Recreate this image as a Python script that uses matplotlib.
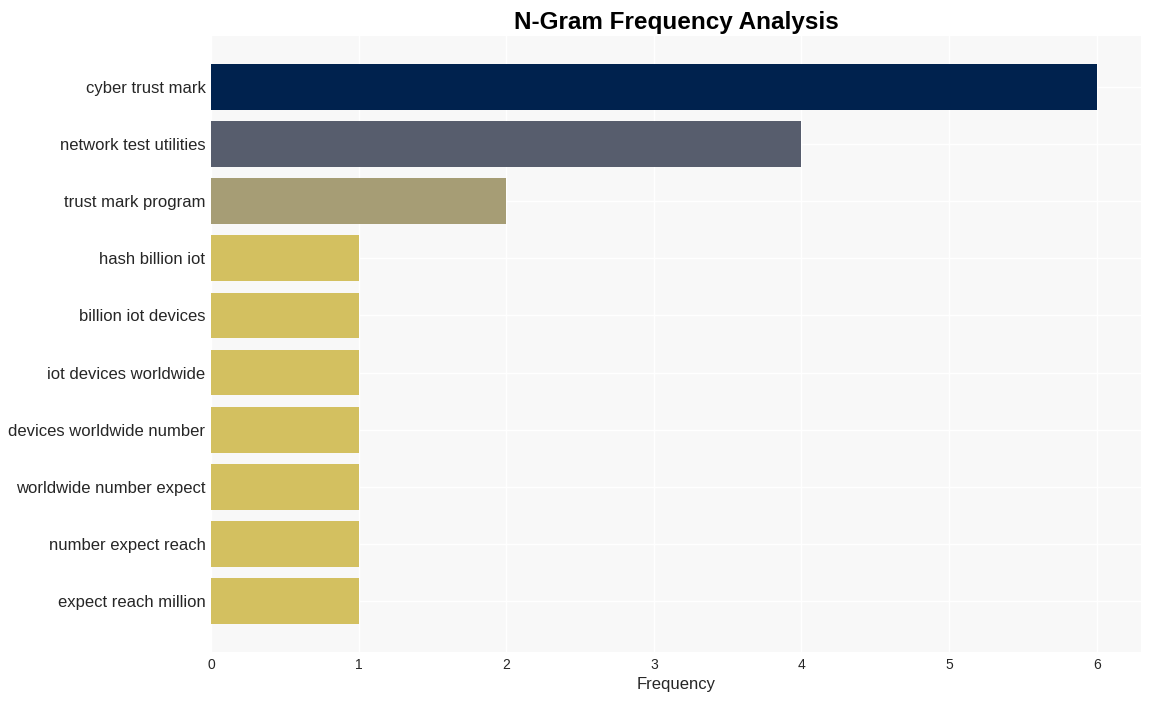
import numpy as np
import matplotlib
matplotlib.use("Agg")
import matplotlib.pyplot as plt

plt.rcParams["font.family"] = ["Liberation Sans", "DejaVu Sans"]

ngrams = ["cyber trust mark", "network test utilities", "trust mark program",
          "hash billion iot", "billion iot devices", "iot devices worldwide",
          "devices worldwide number", "worldwide number expect",
          "number expect reach", "expect reach million"]
counts = [6, 4, 2, 1, 1, 1, 1, 1, 1, 1]
colors = ["#00224e", "#575d6d", "#a69d75", "#d3c060", "#d3c060", "#d3c060",
          "#d3c060", "#d3c060", "#d3c060", "#d3c060"]

fig = plt.figure(figsize=(11.51, 7.01), dpi=100)
ax = fig.add_axes([211/1151, 1 - 652/701, 930/1151, 616/701])
ax.set_facecolor("#f8f8f8")

y = np.arange(len(ngrams))
ax.barh(y, counts, height=0.8, color=colors, zorder=2)
ax.set_yticks(y)
ax.set_yticklabels(ngrams, fontsize=12, color="#262626")
ax.invert_yaxis()
ax.set_xlim(0, 6.3)
ax.set_xticks(range(0, 7))
ax.tick_params(axis="x", labelsize=10, colors="#262626", length=0, pad=4)
ax.tick_params(axis="y", length=0, pad=4)
ax.grid(True, color="white", linewidth=1, zorder=1)
ax.set_axisbelow(True)
for s in ax.spines.values():
    s.set_visible(False)

ax.set_xlabel("Frequency", fontsize=12, color="#262626", labelpad=4)
ax.set_title("N-Gram Frequency Analysis", fontsize=17.5, fontweight="bold", pad=5)

fig.savefig("out.png", dpi=100)
